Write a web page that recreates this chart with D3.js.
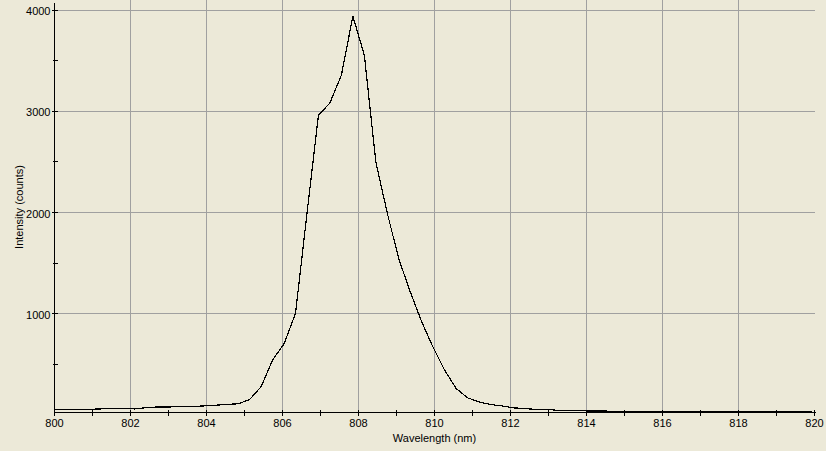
<!DOCTYPE html>
<html><head><meta charset="utf-8">
<script src="https://cdn.jsdelivr.net/npm/d3@7"></script>
<style>
html,body{margin:0;padding:0;background:#ece9d8;}
svg{display:block;}
text{font-family:"Liberation Sans",Arial,sans-serif;font-size:11px;fill:#000;}
</style></head><body>
<script>
// Wavelength (nm)
const wavelengths = [800.000,800.302,800.604,800.906,801.208,801.510,801.812,802.114,802.416,802.718,
803.020,803.322,803.624,803.926,804.228,804.530,804.832,805.134,805.436,805.738,
806.040,806.342,806.644,806.946,807.248,807.550,807.852,808.154,808.456,808.758,
809.060,809.362,809.664,809.966,810.268,810.570,810.872,811.174,811.476,811.778,
812.080,812.382,812.684,812.986,813.288,813.590,813.892,814.194,814.496,814.798,
815.100,815.402,815.704,816.006,816.308,816.610,816.912,817.214,817.516,817.818,
818.120,818.422,818.724,819.026,819.328,819.630,819.932];
// Intensity (counts)
const intensity = [52,52,52,52,55,62,62,55,68,75,
75,77,80,85,92,100,106,148,275,540,
700,1000,1990,2963,3085,3360,3943,3557,2500,1993,
1540,1214,917,663,438,257,165,125,99,85,
66,59,50,50,40,38,36,35,34,33,
33,32,31,30,30,29,30,28,27,27,
28,26,30,27,26,29,26];
const xMajorTicks = [800,802,804,806,808,810,812,814,816,818,820];
const xMinorTicks = [801,803,805,807,809,811,813,815,817,819];
const yMajorTicks = [1000,2000,3000,4000];
const yMinorTicks = [500,1500,2500,3500];
const xTitle = "Wavelength (nm)";
const yTitle = "Intensity (counts)";

const W = 826, H = 451;
const svg = d3.select("body").append("svg").attr("width", W).attr("height", H);
svg.append("rect").attr("width", W).attr("height", H).attr("fill", "#ece9d8");

const x = d3.scaleLinear().domain([800, 820]).range([54.5, 814.5]);
const y = d3.scaleLinear().domain([20, 4079]).range([412.5, 2.5]);

const grid = "#a0a0a0";
// vertical gridlines (not at ends)
svg.append("g").selectAll("line").data(xMajorTicks.filter(d => d > 800 && d < 820)).join("line")
  .attr("x1", d => Math.round(x(d) - 0.5) + 0.5).attr("x2", d => Math.round(x(d) - 0.5) + 0.5)
  .attr("y1", y.range()[1] - 2.5).attr("y2", y.range()[0])
  .attr("stroke", grid).attr("shape-rendering", "crispEdges");
// horizontal gridlines
svg.append("g").selectAll("line").data(yMajorTicks).join("line")
  .attr("x1", x.range()[0]).attr("x2", x.range()[1])
  .attr("y1", d => Math.round(y(d) - 0.5) + 0.5).attr("y2", d => Math.round(y(d) - 0.5) + 0.5)
  .attr("stroke", grid).attr("shape-rendering", "crispEdges");

// data line, clipped to plot
svg.append("clipPath").attr("id", "clip").append("rect")
  .attr("x", x.range()[0]).attr("y", 0).attr("width", x.range()[1] - x.range()[0]).attr("height", y.range()[0]);
const pts = wavelengths.map((w, i) => [w, intensity[i]]);
svg.append("path").datum(pts)
  .attr("clip-path", "url(#clip)")
  .attr("d", d3.line().x(d => x(d[0])).y(d => y(d[1])))
  .attr("fill", "none").attr("stroke", "#000").attr("stroke-width", 1.2)
  .attr("shape-rendering", "crispEdges");

// X axis
const xa = svg.append("g");
xa.append("line").attr("x1", x.range()[0]).attr("x2", x.range()[1] + 1)
  .attr("y1", y.range()[0]).attr("y2", y.range()[0]).attr("stroke", "#000").attr("stroke-width", 1.5)
  .attr("shape-rendering", "crispEdges");
xa.selectAll("line.t").data(xMajorTicks.concat(xMinorTicks)).join("line").attr("class", "t")
  .attr("x1", d => Math.round(x(d) - 0.5) + 0.5).attr("x2", d => Math.round(x(d) - 0.5) + 0.5)
  .attr("y1", y.range()[0] - 3).attr("y2", y.range()[0] + 3)
  .attr("stroke", "#000").attr("shape-rendering", "crispEdges");
xa.selectAll("text").data(xMajorTicks).join("text")
  .attr("x", d => x(d)).attr("y", y.range()[0] + 14.5)
  .attr("text-anchor", "middle").text(d => d);
svg.append("text").attr("x", (x.range()[0] + x.range()[1]) / 2).attr("y", 442)
  .attr("text-anchor", "middle").text(xTitle);

// Y axis
const ya = svg.append("g");
ya.append("line").attr("x1", x.range()[0]).attr("x2", x.range()[0])
  .attr("y1", y.range()[1]).attr("y2", y.range()[0] + 1).attr("stroke", "#000").attr("stroke-width", 1.5)
  .attr("shape-rendering", "crispEdges");
ya.selectAll("line.t").data(yMajorTicks).join("line").attr("class", "t")
  .attr("x1", x.range()[0] - 3).attr("x2", x.range()[0] + 3)
  .attr("y1", d => Math.round(y(d) - 0.5) + 0.5).attr("y2", d => Math.round(y(d) - 0.5) + 0.5)
  .attr("stroke", "#000").attr("shape-rendering", "crispEdges");
ya.selectAll("line.m").data(yMinorTicks).join("line").attr("class", "m")
  .attr("x1", x.range()[0] - 2).attr("x2", x.range()[0] + 3)
  .attr("y1", d => Math.round(y(d) - 0.5) + 0.5).attr("y2", d => Math.round(y(d) - 0.5) + 0.5)
  .attr("stroke", "#000").attr("shape-rendering", "crispEdges");
ya.selectAll("text").data(yMajorTicks).join("text")
  .attr("x", x.range()[0] - 4).attr("y", d => y(d) + 5)
  .attr("text-anchor", "end").text(d => d);
svg.append("text").attr("transform", "translate(23,207) rotate(-90)")
  .attr("text-anchor", "middle").text(yTitle);
</script>
</body></html>
